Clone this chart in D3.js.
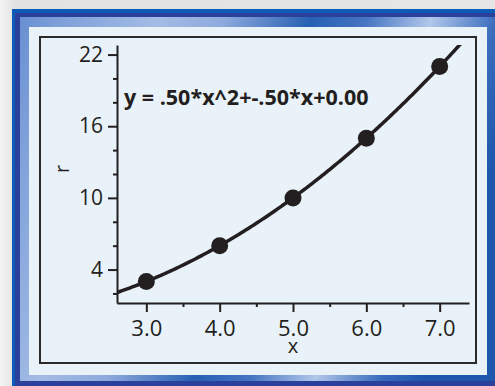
<!DOCTYPE html>
<html><head><meta charset="utf-8">
<script src="https://cdn.jsdelivr.net/npm/d3@7"></script>
<style>html,body{margin:0;padding:0;background:#e7e7e7;overflow:hidden}</style>
</head><body><svg id="c" width="495" height="386"></svg>
<script>
// ---- data ----
const xValues = [3, 4, 5, 6, 7];
const rValues = [3, 6, 10, 15, 21];
const fitCoefficients = [0.50, -0.50, 0.00]; // y = a*x^2 + b*x + c
const xDomain = [2.6, 7.4];
const yDomain = [1.2, 22.8];
const xTickValues = [3, 4, 5, 6, 7];
const xTickLabels = ["3.0", "4.0", "5.0", "6.0", "7.0"];
const xMinorTicks = [3.5, 4.5, 5.5, 6.5];
const yTickValues = [4, 10, 16, 22];
const yTickLabels = ["4", "10", "16", "22"];
const yMinorTicks = [2, 6, 8, 12, 14, 18, 20];
const equationText = "y = .50*x^2+-.50*x+0.00";
const xTitle = "x";
const yTitle = "r";

// ---- drawing ----
const ink = "#231f20";
const font = "'Open Sans', 'Noto Sans', sans-serif";
const svg = d3.select("#c");
const defs = svg.append("defs");

const bgGrad = defs.append("linearGradient").attr("id", "bg").attr("x1", 0).attr("x2", 1).attr("y1", 0).attr("y2", 0);
bgGrad.append("stop").attr("offset", 0).attr("stop-color", "#f4f4f4");
bgGrad.append("stop").attr("offset", 0.03).attr("stop-color", "#e2e2e2");
bgGrad.append("stop").attr("offset", 1).attr("stop-color", "#e6e6e6");

const bevel = defs.append("linearGradient").attr("id", "bevel")
  .attr("gradientUnits", "userSpaceOnUse")
  .attr("x1", 0).attr("y1", 0).attr("x2", 495).attr("y2", 160);
[[0, "#5a84cc"], [0.12, "#7d9fd9"], [0.3, "#a3bce5"], [0.42, "#8eaadd"], [0.58, "#2660b3"],
 [0.68, "#4574c2"], [0.8, "#b1c7ea"], [0.92, "#3a6cbd"], [1, "#1d58ac"]]
  .forEach(([o, c]) => bevel.append("stop").attr("offset", o).attr("stop-color", c));

svg.append("rect").attr("width", 495).attr("height", 386).attr("fill", "url(#bg)");
svg.append("rect").attr("x", 12).attr("y", 9).attr("width", 490).attr("height", 390).attr("fill", "#0b5cb6");
svg.append("rect").attr("x", 15).attr("y", 13).attr("width", 490).attr("height", 390).attr("fill", "#2a409b");
svg.append("rect").attr("x", 20).attr("y", 17).attr("width", 480).attr("height", 364).attr("fill", "url(#bevel)");
svg.append("rect").attr("x", 29).attr("y", 27).attr("width", 458).attr("height", 348).attr("fill", "#e9f2f8");
svg.append("rect").attr("x", 40).attr("y", 37).attr("width", 436).attr("height", 326)
  .attr("fill", "#e9f2f8").attr("stroke", "#2b2b2b").attr("stroke-width", 2);

const x = d3.scaleLinear().domain(xDomain).range([117, 469]);
const y = d3.scaleLinear().domain(yDomain).range([303, 45]);

// clip
defs.append("clipPath").attr("id", "plot").append("rect")
  .attr("x", x(xDomain[0])).attr("y", y(yDomain[1]))
  .attr("width", x(xDomain[1]) - x(xDomain[0])).attr("height", y(yDomain[0]) - y(yDomain[1]));

// axes
function styleAxis(g) {
  g.selectAll("path.domain").attr("stroke", ink).attr("stroke-width", 2);
  g.selectAll(".tick line").attr("stroke", ink).attr("stroke-width", 2);
  g.selectAll(".tick text").attr("fill", ink).attr("font-family", font).attr("font-size", 21);
}
const gxMinor = svg.append("g").attr("transform", `translate(0,${y(yDomain[0])})`)
  .call(d3.axisBottom(x).tickValues(xMinorTicks).tickSize(4).tickSizeOuter(0).tickFormat(""));
gxMinor.select(".domain").remove();
styleAxis(gxMinor);
const gx = svg.append("g").attr("transform", `translate(0,${y(yDomain[0])})`)
  .call(d3.axisBottom(x).tickValues(xTickValues).tickFormat((d, i) => xTickLabels[i])
    .tickSize(9).tickSizeOuter(0).tickPadding(8));
styleAxis(gx);
gx.selectAll(".tick text").attr("font-size", 22);

const gyMinor = svg.append("g").attr("transform", `translate(${x(xDomain[0])},0)`)
  .call(d3.axisLeft(y).tickValues(yMinorTicks).tickSize(4).tickSizeOuter(0).tickFormat(""));
gyMinor.select(".domain").remove();
styleAxis(gyMinor);
const gy = svg.append("g").attr("transform", `translate(${x(xDomain[0])},0)`)
  .call(d3.axisLeft(y).tickValues(yTickValues).tickFormat((d, i) => yTickLabels[i])
    .tickSize(9).tickSizeOuter(0).tickPadding(5));
styleAxis(gy);

// titles
svg.append("text").attr("x", x(5)).attr("y", 353).attr("text-anchor", "middle")
  .attr("font-family", font).attr("font-size", 20).attr("fill", ink).text(xTitle);
svg.append("text").attr("transform", "translate(69,169) rotate(-90)").attr("text-anchor", "middle")
  .attr("font-family", font).attr("font-size", 20).attr("fill", ink).text(yTitle);

// fit curve
const [a, b, c] = fitCoefficients;
const xs = d3.range(xDomain[0], xDomain[1] + 0.001, 0.02);
const line = d3.line().x(d => x(d)).y(d => y(a * d * d + b * d + c));
svg.append("g").attr("clip-path", "url(#plot)").append("path").datum(xs)
  .attr("d", line).attr("fill", "none").attr("stroke", ink).attr("stroke-width", 3.5);

// points
svg.append("g").selectAll("circle").data(xValues).join("circle")
  .attr("cx", d => x(d)).attr("cy", (d, i) => y(rValues[i])).attr("r", 8.5).attr("fill", ink);

// equation
svg.append("text").attr("x", 124).attr("y", 105).attr("font-family", font)
  .attr("font-weight", "bold").attr("font-size", 21.5).attr("fill", ink).text(equationText);
</script></body></html>
